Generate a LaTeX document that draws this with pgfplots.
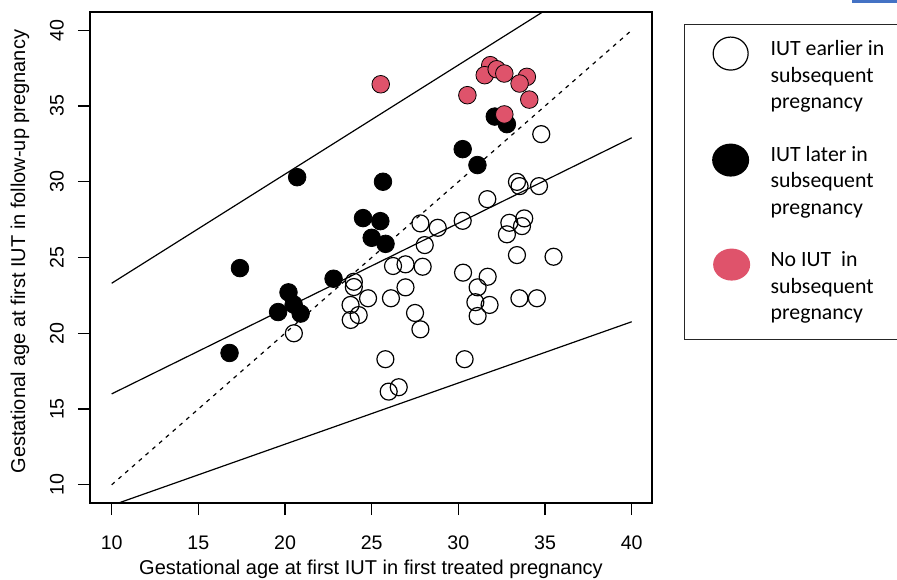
\documentclass[border=0pt]{standalone}
\usepackage{fontspec}
\setmainfont{Liberation Sans}
\newfontfamily\legfont{Carlito}
\usepackage{pgfplots}
\pgfplotsset{compat=1.18}
\definecolor{iutpink}{HTML}{DF536B}
\definecolor{linkblue}{HTML}{4472C4}
\begin{document}
\begin{tikzpicture}
\begin{axis}[
  at={(0,0)}, anchor=south west,
  scale only axis, width=281pt, height=245.5pt,
  xmin=8.75, xmax=41.17, ymin=8.8, ymax=41.2,
  xtick={10,15,...,40}, ytick={10,15,...,40},
  tick pos=left, tick align=outside, major tick length=6pt,
  every tick/.style={black, line width=0.6pt},
  axis line style={line width=0.75pt},
  /pgf/number format/assume math mode=true,
  ticklabel style={font=\fontsize{9.8}{11}\selectfont},
  yticklabel style={rotate=90, anchor=south},
  xticklabel shift=7pt, yticklabel shift=3.5pt,
  label style={font=\fontsize{10}{12}\selectfont},
  xlabel={Gestational age at first IUT in first treated pregnancy},
  ylabel={Gestational age at first IUT in follow-up pregnancy},
  xlabel style={at={(axis description cs:0.5,-0.1344)}, anchor=center},
  ylabel style={at={(axis description cs:-0.1246,0.512)}, anchor=center},
  legend style={at={(axis description cs:1.057,0.9756)}, anchor=north west,
    draw=black!85, line width=0.6pt, inner xsep=0pt, inner ysep=3.5pt,
    row sep=7.75pt, column sep=0pt,
    font=\legfont\fontsize{10.9}{13.25}\selectfont,
    cells={anchor=base west}, nodes={inner sep=0pt}},
]
% reference lines
\addplot[black, line width=0.6pt, dash pattern=on 2pt off 2.5pt, forget plot] coordinates {(10,10) (40,40)};
\addplot[black, line width=0.6pt, forget plot] coordinates {(10,16) (40,32.9)};
\addplot[black, line width=0.6pt, forget plot] coordinates {(10,23.3) (35,41.3)};
\addplot[black, line width=0.6pt, forget plot] coordinates {(10,8.64) (40,20.76)};
% IUT earlier
\addplot[only marks, mark=o, mark size=4.25pt, mark options={line width=0.6pt, draw=black},
  legend image code/.code={\path[draw=none, fill=none] (-23pt,-33pt) rectangle (20pt,12pt);
    \draw[black, line width=0.6pt, fill=none] (0pt,1pt) ellipse [x radius=8.75pt, y radius=8.25pt];}]
  table {
x y
34.78 33.14
33.38 29.99
33.53 29.71
34.65 29.71
31.67 28.85
30.25 27.42
27.81 27.25
28.81 26.96
32.94 27.29
33.80 27.58
33.67 27.07
32.80 26.53
28.06 25.82
33.38 25.16
35.49 25.05
26.23 24.44
26.95 24.55
27.94 24.39
23.97 23.40
23.97 23.05
26.95 23.03
24.79 22.31
26.11 22.31
30.27 24.00
31.69 23.73
31.11 23.03
30.98 22.05
31.80 21.87
33.52 22.31
34.53 22.31
23.78 21.87
24.25 21.20
23.79 20.88
27.50 21.34
27.81 20.26
31.11 21.14
25.79 18.29
30.36 18.29
25.98 16.15
26.56 16.44
20.51 20.00
};
\addlegendentry{\parbox[t]{66pt}{\raggedright IUT earlier in\\subsequent\\pregnancy}}
% IUT later
\addplot[only marks, mark=*, mark size=4.4pt, mark options={fill=black, draw=none},
  legend image code/.code={\path[draw=none, fill=none] (-23pt,-33pt) rectangle (20pt,12pt);
    \fill[black, draw=none] (0pt,0.5pt) ellipse [x radius=9.25pt, y radius=8.25pt];}]
  table {
x y
20.70 30.30
17.40 24.30
22.80 23.60
20.20 22.70
19.60 21.40
20.50 21.90
20.90 21.30
16.80 18.70
32.10 34.30
32.80 33.80
30.25 32.15
31.10 31.10
25.65 30.00
24.50 27.60
25.50 27.40
25.00 26.30
25.80 25.90
};
\addlegendentry{\parbox[t]{66pt}{\raggedright IUT later in\\subsequent\\pregnancy}}
% No IUT
\addplot[only marks, mark=*, mark size=4.4pt, mark options={fill=iutpink, draw=none},
  legend image code/.code={\path[draw=none, fill=none] (-23pt,-33pt) rectangle (20pt,12pt);
    \fill[iutpink, draw=none] (0.5pt,1pt) ellipse [x radius=9.25pt, y radius=8pt];}]
  table {
x y
31.84 37.69
31.52 37.03
32.21 37.42
32.65 37.14
33.95 36.92
33.53 36.48
34.09 35.42
32.65 34.44
30.52 35.71
25.52 36.43
};
\addlegendentry{\parbox[t]{66pt}{\raggedright No IUT~ in\\subsequent\\pregnancy}}
\end{axis}
\draw[linkblue, line width=1.2pt] (381pt,250.8pt) -- (405pt,250.8pt);
\pgfresetboundingbox
\path[use as bounding box] (-45pt,-38pt) rectangle (403.5pt,251.5pt);
\end{tikzpicture}
\end{document}
